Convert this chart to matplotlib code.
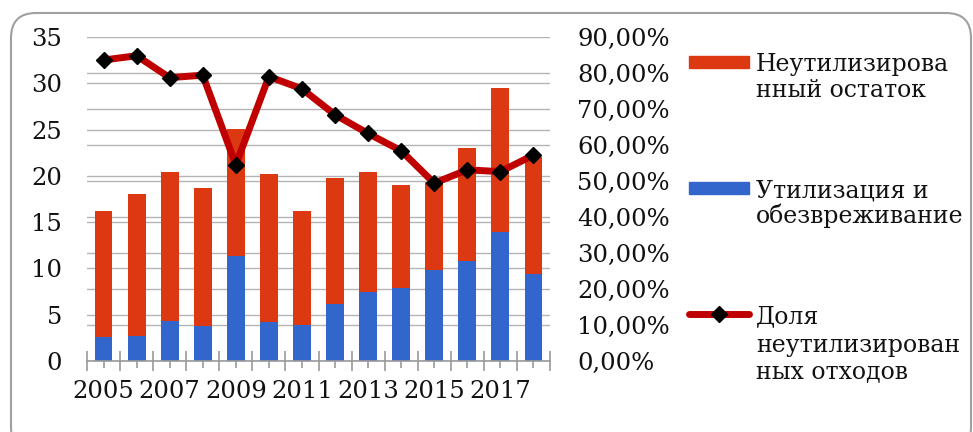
import matplotlib
matplotlib.use('Agg')
import matplotlib.pyplot as plt
import numpy as np
from matplotlib.patches import FancyBboxPatch, Rectangle
from matplotlib.lines import Line2D
from matplotlib.ticker import FuncFormatter, MultipleLocator, FixedLocator
from matplotlib.transforms import IdentityTransform

# ---- data ----
years = [2005, 2006, 2007, 2008, 2009, 2010, 2011, 2012, 2013, 2014, 2015, 2016, 2017, 2018]
year_labels = ['2005', '', '2007', '', '2009', '', '2011', '', '2013', '', '2015', '', '2017', '']
utilized = [2.56, 2.70, 4.29, 3.82, 11.38, 4.18, 3.89, 6.19, 7.49, 7.85, 9.80, 10.77, 13.97, 9.40]
remainder = [13.61, 15.34, 16.16, 14.83, 13.65, 15.99, 12.28, 13.55, 12.96, 11.20, 9.50, 12.27, 15.52, 12.60]
share_pct = [83.6, 84.8, 78.7, 79.4, 54.5, 79.0, 75.6, 68.4, 63.2, 58.4, 49.4, 53.1, 52.6, 57.2]

name_rem = 'Неутилизирова\nнный остаток'
name_util = 'Утилизация и\nобезвреживание'
name_share = 'Доля\nнеутилизирован\nных отходов'

C_REM = '#dc3912'
C_UTIL = '#3366cc'
C_LINE = '#c00000'
GRID = '#b4b4b4'
TXT = '#111111'

plt.rcParams['font.family'] = ['DejaVu Serif']
FS = 17.5
FS_LEG = 17

W, H = 973, 432
fig = plt.figure(figsize=(W / 100, H / 100), dpi=100)

ax = fig.add_axes([87 / W, 71 / H, (550 - 87) / W, 324 / H])
x = np.arange(len(years))
ax.bar(x, utilized, width=0.54, color=C_UTIL, zorder=2)
ax.bar(x, remainder, width=0.54, bottom=utilized, color=C_REM, zorder=2)
ax.set_xlim(-0.5, len(years) - 0.5)
ax.set_ylim(0, 35)
ax.yaxis.set_major_locator(MultipleLocator(5))
# right-axis gridlines (10% steps) drawn on the left axes so they stay behind bars
ax.yaxis.set_minor_locator(FixedLocator(np.arange(10, 91, 10) * 35 / 90))
ax.grid(axis='y', which='both', color=GRID, lw=1, zorder=0)
ax.set_axisbelow(True)
ax.tick_params(axis='y', which='both', length=0, pad=18, labelsize=FS, labelcolor=TXT)
ax.set_xticks(x)
ax.set_xticklabels(year_labels)
ax.set_xticks(np.arange(-0.5, len(years), 1), minor=True)
ax.tick_params(axis='x', which='major', direction='inout', length=10, width=1.2,
               color='#999999', pad=8.5, labelsize=FS, labelcolor=TXT)
ax.tick_params(axis='x', which='minor', direction='inout', length=15, width=1.2, color='#999999')
for s in ['left', 'right', 'top']:
    ax.spines[s].set_visible(False)
ax.spines['bottom'].set_color('#999999')
ax.spines['bottom'].set_linewidth(1.2)

ax2 = ax.twinx()
ax2.plot(x, share_pct, color=C_LINE, lw=5, marker='D', markersize=8,
         mfc='black', mec='black', zorder=5)
ax2.set_ylim(0, 90)
ax2.yaxis.set_major_locator(MultipleLocator(10))
ax2.yaxis.set_major_formatter(FuncFormatter(lambda v, p: f"{v:.2f}".replace('.', ',') + '%'))
ax2.tick_params(axis='y', length=0, pad=19.5, labelsize=FS, labelcolor=TXT)
for s in ax2.spines.values():
    s.set_visible(False)

# ---- legend (manual, right side) ----
def fy(py):
    return 1 - py / H

fig.add_artist(Rectangle((689 / W, fy(68)), 60 / W, 12 / H, transform=fig.transFigure,
                         color=C_REM))
fig.add_artist(Rectangle((689 / W, fy(194)), 60 / W, 12 / H, transform=fig.transFigure,
                         color=C_UTIL))
fig.add_artist(Line2D([689 / W, 749 / W], [fy(314), fy(314)], transform=fig.transFigure,
                      color=C_LINE, lw=5, solid_capstyle='round'))
fig.add_artist(Line2D([719 / W], [fy(314)], transform=fig.transFigure, marker='D',
                      markersize=8, mfc='black', mec='black', lw=0))

tx = 756 / W
for label, baselines in [(name_rem, [71, 97]), (name_util, [197, 223]), (name_share, [323, 352, 378])]:
    for line, b in zip(label.split('\n'), baselines):
        fig.text(tx, fy(b), line, fontsize=FS_LEG, color=TXT, va='baseline', ha='left')

# ---- rounded frame ----
frame = FancyBboxPatch((11, -20), 960, 432 - 13 + 20,
                       boxstyle='round,pad=0,rounding_size=25',
                       transform=IdentityTransform(), fill=False,
                       edgecolor='#a0a0a0', lw=1.5)
fig.add_artist(frame)

fig.savefig('out.png', dpi=100)
